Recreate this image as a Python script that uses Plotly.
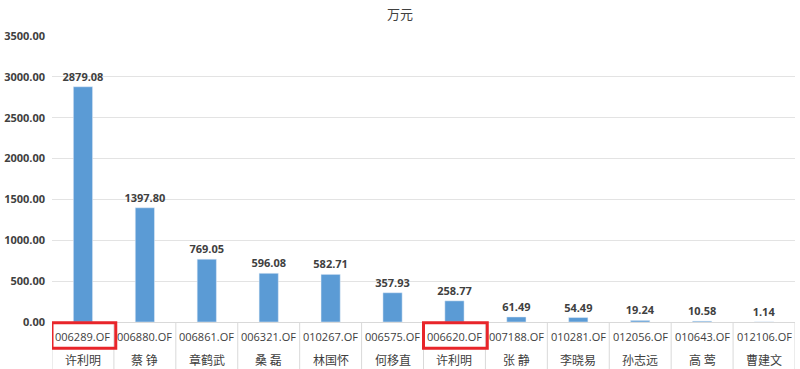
import plotly.graph_objects as go

codes = ["006289.OF", "006880.OF", "006861.OF", "006321.OF", "010267.OF", "006575.OF",
         "006620.OF", "007188.OF", "010281.OF", "012056.OF", "010643.OF", "012106.OF"]
names = ["许利明", "蔡 铮", "章鹤武", "桑 磊", "林国怀", "何移直",
         "许利明", "张 静", "李晓易", "孙志远", "高 莺", "曹建文"]
values = [2879.08, 1397.80, 769.05, 596.08, 582.71, 357.93,
          258.77, 61.49, 54.49, 19.24, 10.58, 1.14]
highlight_idx = [0, 6]
y_ticks = [0, 500, 1000, 1500, 2000, 2500, 3000, 3500]

n = len(codes)
xs = list(range(n))

fig = go.Figure()
fig.add_trace(go.Bar(
    x=xs, y=values, marker_color="#5B9BD5", width=0.31,
    text=[f"{v:.2f}" for v in values], textposition="outside",
    textfont=dict(family="Open Sans", size=11, color="#404040", weight="bold"),
    cliponaxis=False,
))

# category labels (two rows)
for i in xs:
    fig.add_annotation(x=i, y=-0.05, xref="x", yref="paper", text=codes[i],
                       showarrow=False, yanchor="middle",
                       font=dict(family="Open Sans", size=11, color="#404040"))
    fig.add_annotation(x=i, y=-0.13, xref="x", yref="paper", text=names[i],
                       showarrow=False, yanchor="middle",
                       font=dict(family="Noto Sans CJK SC", size=12, color="#404040"))

# separators between categories in label area
for k in range(n + 1):
    fig.add_shape(type="line", x0=k - 0.5, x1=k - 0.5, xref="x", y0=0, y1=-0.17,
                  yref="paper", line=dict(color="#d9d9d9", width=1))

# red highlight boxes
for i in highlight_idx:
    fig.add_shape(type="rect", x0=i - 0.5, x1=i + 0.53, xref="x", y0=-0.003, y1=-0.092,
                  yref="paper", line=dict(color="#e8252a", width=3))

fig.update_layout(
    width=800, height=369,
    margin=dict(l=52, r=5, t=36, b=47),
    paper_bgcolor="white", plot_bgcolor="white",
    showlegend=False,
    uniformtext=dict(minsize=11, mode="show"),
    title=dict(text="万元", x=0.5, xanchor="center", y=0.962, yanchor="middle",
               font=dict(family="Noto Sans CJK SC", size=13, color="#404040")),
    xaxis=dict(range=[-0.5, n - 0.5], showticklabels=False, showgrid=False,
               showline=True, linecolor="#d9d9d9", zeroline=False, ticks=""),
    yaxis=dict(range=[0, 3500], tickvals=y_ticks,
               ticktext=[f"{t:.2f}" for t in y_ticks],
               showgrid=True, gridcolor="#e3e3e3", zeroline=False,
               tickfont=dict(family="Open Sans", size=11, color="#404040", weight="bold"),
               ticks="", ticklabelstandoff=6),
)

fig.write_html("out.html")
